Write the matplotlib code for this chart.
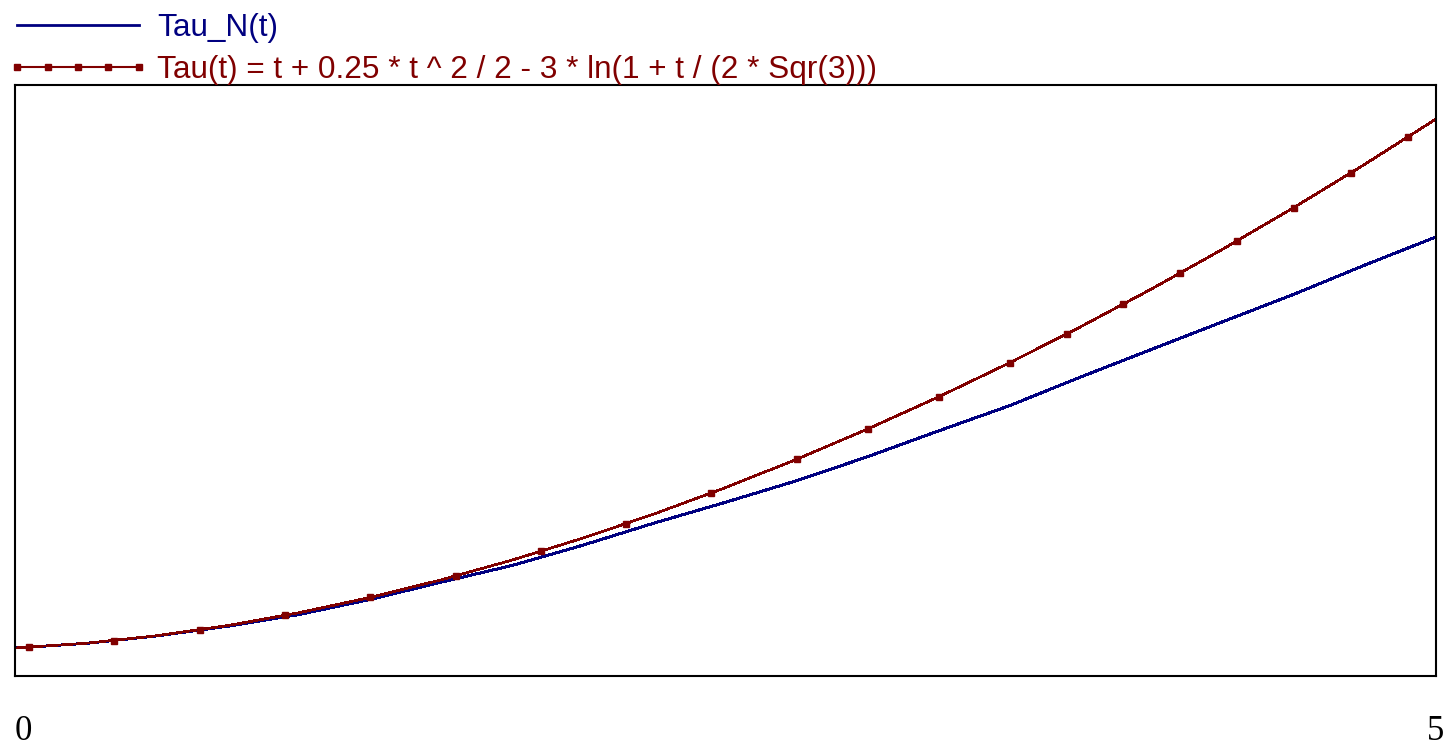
"""
Tau comparison plot: numeric Tau_N(t) against the closed form Tau(t).
"""

import matplotlib
matplotlib.use("Agg")
import matplotlib.pyplot as plt
from matplotlib.lines import Line2D


# -------------------------------
# Data
# -------------------------------

t_values = [0.0, 0.25, 0.5, 0.75, 1.0, 1.25, 1.5, 1.75, 2.0, 2.25, 2.5,
            2.75, 3.0, 3.25, 3.5, 3.75, 4.0, 4.25, 4.5, 4.75, 5.0]

tau_numeric = [0.0, 0.048, 0.125, 0.225, 0.345, 0.50, 0.678, 0.85, 1.06,
               1.287, 1.50, 1.722, 1.969, 2.235, 2.495, 2.79, 3.075, 3.359,
               3.641, 3.942, 4.231]

tau_exact = [0.0, 0.049, 0.127, 0.232, 0.364, 0.521, 0.702, 0.906, 1.133,
             1.381, 1.651, 1.942, 2.254, 2.585, 2.936, 3.307, 3.697, 4.106,
             4.534, 4.980, 5.445]

# marker spots along the Tau(t) curve
marker_t = [0.05, 0.35, 0.65, 0.95, 1.25, 1.55, 1.85, 2.15, 2.45, 2.75,
            3.0, 3.25, 3.5, 3.7, 3.9, 4.1, 4.3, 4.5, 4.7, 4.9]
marker_tau = [0.007, 0.077, 0.187, 0.336, 0.521, 0.741, 0.994, 1.279, 1.596,
              1.942, 2.254, 2.585, 2.936, 3.231, 3.539, 3.858, 4.190, 4.534,
              4.889, 5.257]

x_ticks = [0, 5]
x_tick_labels = ["0", "5"]

label_numeric = "Tau_N(t)"
label_exact = "Tau(t) = t + 0.25 * t ^ 2 / 2 - 3 * ln(1 + t / (2 * Sqr(3)))"

BLUE = "#000080"
RED = "#800000"


# -------------------------------
# Plot
# -------------------------------

def plot_tau():
    W, H = 1455, 749
    fig = plt.figure(figsize=(W / 100, H / 100), dpi=100)
    ax = fig.add_axes([15 / W, (H - 676) / H, (1436 - 15) / W, (676 - 85) / H])

    ax.plot(t_values, tau_numeric, color=BLUE, lw=1.4, antialiased=False)
    ax.plot(t_values, tau_exact, color=RED, lw=1.2, antialiased=False)
    ax.plot(marker_t, marker_tau, ls="none", marker="s", ms=4.5,
            color=RED, antialiased=False)

    ax.set_xlim(0, 5)
    ax.set_ylim(-0.288, 5.795)
    ax.set_yticks([])
    ax.set_xticks(x_ticks)
    ax.set_xticklabels(x_tick_labels, family="Liberation Serif", fontsize=25)
    ax.tick_params(axis="x", length=0, pad=28)
    ax.get_xticklabels()[0].set_horizontalalignment("left")

    for spine in ax.spines.values():
        spine.set_linewidth(1.5)
        spine.set_color("black")

    # legend sits above the frame, outside the axes
    handles = [
        Line2D([], [], color=BLUE, lw=2),
        Line2D([], [], color=RED, lw=1.5, marker="s", ms=5),
    ]
    fig.legend(handles, [label_numeric, label_exact],
               loc="upper left", bbox_to_anchor=(8 / W, 1 - 13 / H),
               frameon=False, borderpad=0, borderaxespad=0,
               handlelength=4.45, handletextpad=0.28, labelspacing=0.37,
               numpoints=5, labelcolor="linecolor",
               prop={"family": "Liberation Sans", "size": 22.7})

    fig.savefig("out.png", dpi=100)


def main():
    plot_tau()


if __name__ == "__main__":
    main()
